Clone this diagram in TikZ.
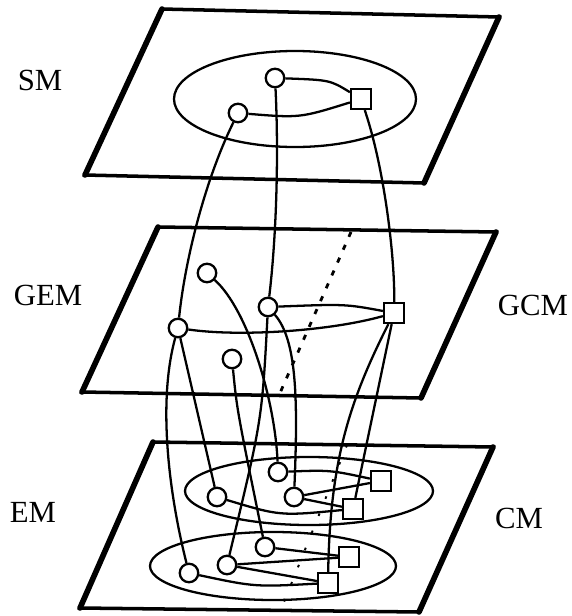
\documentclass[tikz,border=0pt]{standalone}
\usepackage{fontspec}
\setmainfont{Liberation Serif}
\usepackage{tkz-euclide}
\tikzset{
  plane/.style={line width=2pt,line join=miter},
  planeside/.style={line width=3.2pt,line cap=round},
  orbit/.style={line width=1.3pt},
  link/.style={line width=1.3pt},
  hidden/.style={line width=1.6pt,dash pattern=on 3pt off 5pt},
  faint/.style={line width=1.1pt,dash pattern=on 1.5pt off 9pt},
  entity/.style={circle,draw,line width=1.3pt,fill=white,inner sep=0pt,minimum size=0.37cm},
  concept/.style={rectangle,draw,line width=1.3pt,fill=white,inner sep=0pt,minimum size=0.4cm},
  layer/.style={font=\fontsize{17.5}{20}\selectfont,inner sep=0pt}
}

\begin{document}
\begin{tikzpicture}[x=0.02cm,y=-0.02cm]
\useasboundingbox (0,0) rectangle (572,616);

\tkzDefPoints{162/9/A,499/17/B,424/183/C,85/175/D}
\tkzDefPoints{158/227/E,496/232/F,421/398/G,82/392/H}
\tkzDefPoints{153/442/I,493/447/J,419/612/K,80/608/L}

\tkzDrawPolygon[plane](A,B,C,D)
\tkzDrawPolygon[plane](E,F,G,H)
\tkzDrawPolygon[plane](I,J,K,L)
\tkzDrawSegments[planeside](A,D B,C E,H F,G I,L J,K)

\node[layer] (sm) at (40,80) {SM};
\node[layer] (gem) at (48,295) {GEM};
\node[layer] (gcm) at (533,305) {GCM};
\node[layer] (em) at (33,512) {EM};
\node[layer] (cm) at (519,518) {CM};

\draw[orbit] (295,99) ellipse [x radius=121,y radius=48];
\draw[orbit] (309,491) ellipse [x radius=124,y radius=34];
\draw[orbit] (273,566) ellipse [x radius=123,y radius=34];

\coordinate (gtop) at (351,232);
\coordinate (gbot) at (280,393);
\coordinate (etop) at (347,445);
\coordinate (ebot) at (280,612);
\draw[hidden] (gtop) -- (gbot);
\draw[faint] (etop) -- (ebot);

\node[entity] (sa) at (275,78) {};
\node[entity] (sb) at (238,113) {};
\node[concept] (ss) at (361,99) {};

\node[entity] (g1) at (207,273) {};
\node[entity] (g2) at (268,307) {};
\node[entity] (g3) at (178,328) {};
\node[entity] (g4) at (232,359) {};
\node[concept] (gs) at (394,313) {};

\node[entity] (ea) at (217,497) {};
\node[entity] (eb) at (278,472) {};
\node[entity] (ec) at (294,497) {};
\node[entity] (ed) at (265,547) {};
\node[entity] (ee) at (227,565) {};
\node[entity] (ef) at (189,573) {};
\node[concept] (q1) at (381,481) {};
\node[concept] (q2) at (353,509) {};
\node[concept] (q3) at (349,557) {};
\node[concept] (q4) at (328,583) {};

\draw[link] (sa) .. controls (330,80) .. (ss);
\draw[link] (sb) .. controls (300,118) .. (ss);
\draw[link] (sb) .. controls (205,180) and (185,260) .. (g3);
\draw[link] (sa) .. controls (279,160) and (276,240) .. (g2);
\draw[link] (ss) .. controls (385,170) and (395,260) .. (gs);

\draw[link] (g2) .. controls (345,304) .. (gs);
\draw[link] (g3) .. controls (240,337) and (330,331) .. (gs);

\draw[link] (g3) .. controls (158,400) and (168,490) .. (ef);
\draw[link] (g3) -- (ea);
\draw[link] (g4) .. controls (237,410) .. (ed);
\draw[link] (g2) .. controls (262,420) .. (ee);
\draw[link] (g1) .. controls (248,310) and (275,400) .. (eb);
\draw[link] (g2) .. controls (297,340) and (298,400) .. (ec);
\draw[link] (gs) -- (q2);
\draw[link] (gs) .. controls (350,400) and (330,460) .. (q4);

\draw[link] (eb) .. controls (330,470) .. (q1);
\draw[link] (ec) -- (q1);
\draw[link] (ec) -- (q2);
\draw[link] (ea) .. controls (280,516) .. (q2);
\draw[link] (ed) -- (q3);
\draw[link] (ee) -- (q3);
\draw[link] (ee) -- (q4);
\draw[link] (ef) .. controls (255,587) .. (q4);

\end{tikzpicture}
\end{document}
